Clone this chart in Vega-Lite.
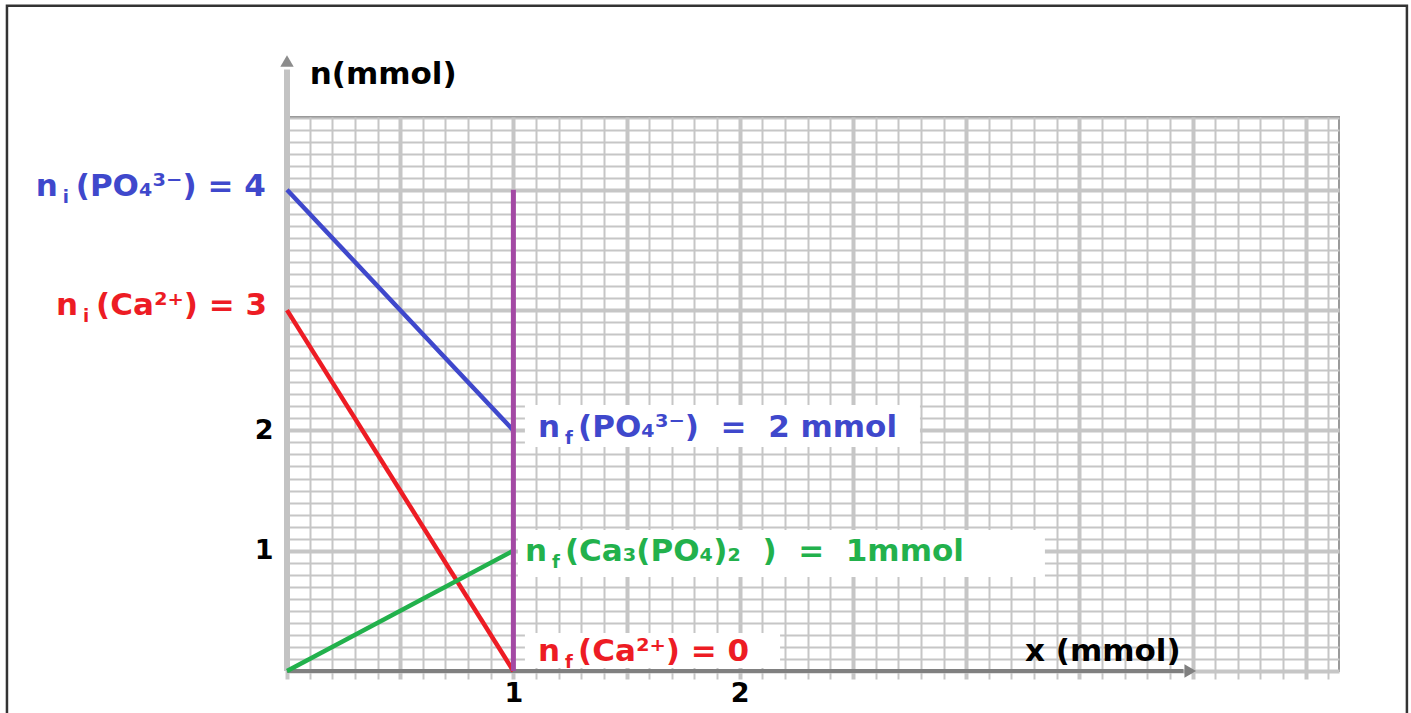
{
  "$schema": "https://vega.github.io/schema/vega-lite/v6.json",
  "width": 1052,
  "height": 554,
  "autosize": {"type": "none"},
  "padding": {"left": 287, "top": 117, "right": 72, "bottom": 42},
  "background": "white",
  "config": {
    "view": {"stroke": "#9a9a9a", "strokeWidth": 2},
    "text": {"font": "DejaVu Sans", "fontWeight": "bold"}
  },
  "datasets": {
    "lines": [
      {"s": "po4", "x": 0, "y": 4},
      {"s": "po4", "x": 1, "y": 2},
      {"s": "ca", "x": 0, "y": 3},
      {"s": "ca", "x": 1, "y": 0},
      {"s": "ppt", "x": 0, "y": 0},
      {"s": "ppt", "x": 1, "y": 1}
    ],
    "labels": [
      {"s": "po4", "t": "(PO₄³⁻) = 4", "sub": "i", "x": -1.11, "y": 4.02},
      {"s": "ca", "t": "(Ca²⁺) = 3", "sub": "i", "x": -1.02, "y": 3.03},
      {"s": "po4", "t": "(PO₄³⁻)\u00a0\u00a0=\u00a0\u00a02 mmol", "sub": "f", "x": 1.109, "y": 2.02},
      {"s": "ppt", "t": "(Ca₃(PO₄)₂\u00a0\u00a0)\u00a0\u00a0=\u00a0\u00a01mmol", "sub": "f", "x": 1.051, "y": 0.99},
      {"s": "ca", "t": "(Ca²⁺) = 0", "sub": "f", "x": 1.109, "y": 0.158}
    ],
    "boxes": [
      {"x": 1.051, "x2": 2.796, "y": 2.211, "y2": 1.862},
      {"x": 1.02, "x2": 3.348, "y": 1.172, "y2": 0.781},
      {"x": 1.051, "x2": 2.178, "y": 0.316, "y2": 0.025}
    ],
    "titles": [
      {"t": "n(mmol)", "x": 0.1, "y": 4.955},
      {"t": "x (mmol)", "x": 3.26, "y": 0.158}
    ]
  },
  "encoding": {
    "x": {
      "field": "x",
      "type": "quantitative",
      "title": null,
      "scale": {"domain": [0, 4.647], "nice": false, "zero": false},
      "axis": {
        "orient": "bottom",
        "values": [0,0.1,0.2,0.3,0.4,0.5,0.6,0.7,0.8,0.9,1,1.1,1.2,1.3,1.4,1.5,1.6,1.7,1.8,1.9,2,2.1,2.2,2.3,2.4,2.5,2.6,2.7,2.8,2.9,3,3.1,3.2,3.3,3.4,3.5,3.6,3.7,3.8,3.9,4,4.1,4.2,4.3,4.4,4.5,4.6],
        "grid": true,
        "gridColor": "#c6c6c6",
        "gridOpacity": 1,
        "gridWidth": {"condition": {"test": "abs(datum.value*2-round(datum.value*2))<0.001", "value": 4}, "value": 2},
        "ticks": true,
        "tickColor": "#c6c6c6",
        "tickSize": 8,
        "tickWidth": {"condition": {"test": "abs(datum.value*2-round(datum.value*2))<0.001", "value": 4}, "value": 2},
        "domain": false,
        "labelExpr": "abs(datum.value-1)<0.001 ? '1' : (abs(datum.value-2)<0.001 ? '2' : '')",
        "labelFont": "DejaVu Sans",
        "labelFontWeight": "bold",
        "labelFontSize": 27,
        "labelColor": "#000000",
        "labelPadding": 1,
        "labelOverlap": false,
        "labelFlush": false
      }
    },
    "y": {
      "field": "y",
      "type": "quantitative",
      "title": null,
      "scale": {"domain": [0, 4.605], "nice": false, "zero": false},
      "axis": {
        "orient": "left",
        "values": [0,0.1,0.2,0.3,0.4,0.5,0.6,0.7,0.8,0.9,1,1.1,1.2,1.3,1.4,1.5,1.6,1.7,1.8,1.9,2,2.1,2.2,2.3,2.4,2.5,2.6,2.7,2.8,2.9,3,3.1,3.2,3.3,3.4,3.5,3.6,3.7,3.8,3.9,4,4.1,4.2,4.3,4.4,4.5,4.6],
        "grid": true,
        "gridColor": "#c6c6c6",
        "gridOpacity": 1,
        "gridWidth": {"condition": {"test": "abs(datum.value-round(datum.value))<0.001", "value": 4}, "value": 2},
        "ticks": false,
        "tickSize": 0,
        "domain": false,
        "labelExpr": "abs(datum.value-1)<0.001 ? '1' : (abs(datum.value-2)<0.001 ? '2' : '')",
        "labelFont": "DejaVu Sans",
        "labelFontWeight": "bold",
        "labelFontSize": 27,
        "labelColor": "#000000",
        "labelPadding": 14,
        "labelOverlap": false,
        "labelFlush": false
      }
    }
  },
  "layer": [
    {
      "data": {"values": [{"x": -1.237, "x2": 4.947, "y": 5.53, "y2": -0.45}]},
      "mark": {"type": "rect", "fill": "transparent", "stroke": "#333333", "strokeWidth": 2.5},
      "encoding": {"x2": {"field": "x2"}, "y2": {"field": "y2"}}
    },
    {
      "data": {"name": "boxes"},
      "mark": {"type": "rect", "color": "white", "opacity": 1},
      "encoding": {"x2": {"field": "x2"}, "y2": {"field": "y2"}}
    },
    {
      "data": {"values": [{"x": 0, "y": 0, "y2": 5.0}]},
      "mark": {"type": "rule", "color": "#c3c3c3", "strokeWidth": 6},
      "encoding": {"y2": {"field": "y2"}}
    },
    {
      "data": {"values": [{"x": 0, "y": 5.07}]},
      "mark": {"type": "point", "shape": "triangle-up", "filled": true, "color": "#8c8c8c", "size": 180, "opacity": 1},
      "encoding": {}
    },
    {
      "data": {"values": [{"x": 0, "x2": 3.96, "y": 0}]},
      "mark": {"type": "rule", "color": "#808080", "strokeWidth": 4},
      "encoding": {"x2": {"field": "x2"}}
    },
    {
      "data": {"values": [{"x": 3.99, "y": 0}]},
      "mark": {"type": "point", "shape": "triangle-right", "filled": true, "color": "#808080", "size": 180, "opacity": 1},
      "encoding": {}
    },
    {
      "data": {"name": "lines"},
      "mark": {"type": "line", "strokeWidth": 4.5},
      "encoding": {
        "color": {"field": "s", "type": "nominal", "legend": null,
          "scale": {"domain": ["po4", "ca", "ppt"], "range": ["#3f48cc", "#ed1c24", "#22b14c"]}}
      }
    },
    {
      "data": {"values": [{"x": 1, "y": 0, "y2": 4}]},
      "mark": {"type": "rule", "color": "#a349a4", "strokeWidth": 5},
      "encoding": {"y2": {"field": "y2"}}
    },
    {
      "data": {"name": "labels"},
      "mark": {"type": "text", "align": "left", "baseline": "middle", "fontSize": 31, "text": "n", "font": "DejaVu Sans", "fontWeight": "bold"},
      "encoding": {
        "color": {"field": "s", "type": "nominal", "legend": null,
          "scale": {"domain": ["po4", "ca", "ppt"], "range": ["#3f48cc", "#ed1c24", "#22b14c"]}}
      }
    },
    {
      "data": {"name": "labels"},
      "mark": {"type": "text", "align": "left", "baseline": "middle", "fontSize": 18, "dx": 27, "dy": 11, "font": "DejaVu Sans", "fontWeight": "bold"},
      "encoding": {
        "text": {"field": "sub"},
        "color": {"field": "s", "type": "nominal", "legend": null,
          "scale": {"domain": ["po4", "ca", "ppt"], "range": ["#3f48cc", "#ed1c24", "#22b14c"]}}
      }
    },
    {
      "data": {"name": "labels"},
      "mark": {"type": "text", "align": "left", "baseline": "middle", "fontSize": 31, "dx": 40, "font": "DejaVu Sans", "fontWeight": "bold"},
      "encoding": {
        "text": {"field": "t"},
        "color": {"field": "s", "type": "nominal", "legend": null,
          "scale": {"domain": ["po4", "ca", "ppt"], "range": ["#3f48cc", "#ed1c24", "#22b14c"]}}
      }
    },
    {
      "data": {"name": "titles"},
      "mark": {"type": "text", "align": "left", "baseline": "middle", "fontSize": 31, "color": "#000000", "font": "DejaVu Sans", "fontWeight": "bold"},
      "encoding": {"text": {"field": "t"}}
    }
  ]
}
